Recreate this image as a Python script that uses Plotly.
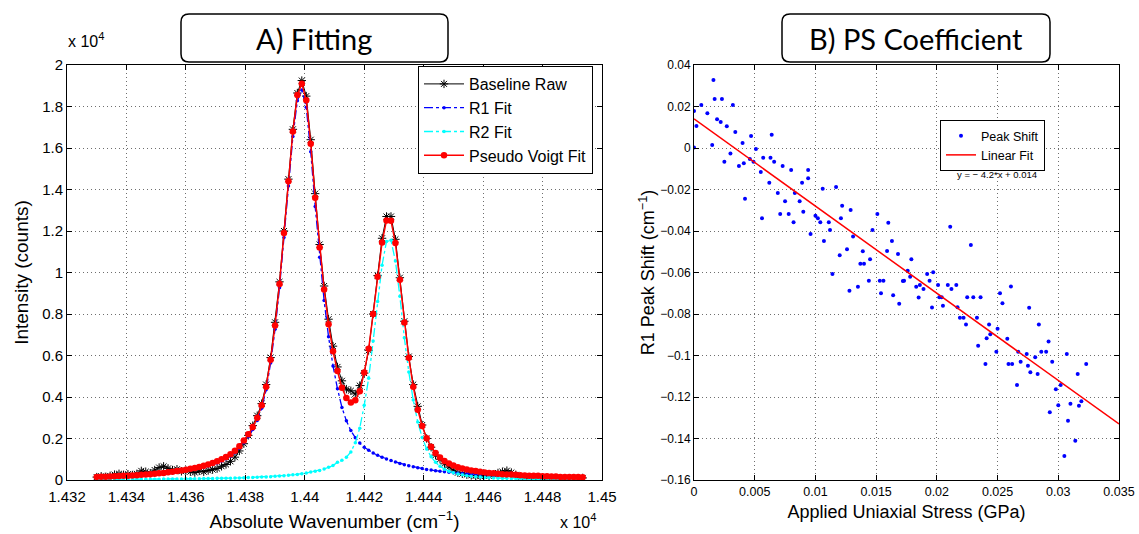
import plotly.graph_objects as go

# --- 0 Data: A) spectrum fit (x in 1e4 cm^-1, y in 1e4 counts)
wavenumber = [1.43300, 1.43315, 1.43330, 1.43345, 1.43360, 1.43375, 1.43390, 1.43405, 1.43420, 1.43435,
              1.43450, 1.43465, 1.43480, 1.43495, 1.43510, 1.43525, 1.43540, 1.43555, 1.43570, 1.43585,
              1.43600, 1.43615, 1.43630, 1.43645, 1.43660, 1.43675, 1.43690, 1.43705, 1.43720, 1.43735,
              1.43750, 1.43765, 1.43780, 1.43795, 1.43810, 1.43825, 1.43840, 1.43855, 1.43870, 1.43885,
              1.43900, 1.43915, 1.43930, 1.43945, 1.43960, 1.43975, 1.43990, 1.44005, 1.44020, 1.44035,
              1.44050, 1.44065, 1.44080, 1.44095, 1.44110, 1.44125, 1.44140, 1.44155, 1.44170, 1.44185,
              1.44200, 1.44215, 1.44230, 1.44245, 1.44260, 1.44275, 1.44290, 1.44305, 1.44320, 1.44335,
              1.44350, 1.44365, 1.44380, 1.44395, 1.44410, 1.44425, 1.44440, 1.44455, 1.44470, 1.44485,
              1.44500, 1.44515, 1.44530, 1.44545, 1.44560, 1.44575, 1.44590, 1.44605, 1.44620, 1.44635,
              1.44650, 1.44665, 1.44680, 1.44695, 1.44710, 1.44725, 1.44740, 1.44755, 1.44770, 1.44785,
              1.44800, 1.44815, 1.44830, 1.44845, 1.44860, 1.44875, 1.44890, 1.44905, 1.44920, 1.44935]

baseline_raw = [0.014, 0.018, 0.015, 0.020, 0.026, 0.030, 0.025, 0.028, 0.024, 0.030,
                0.044, 0.040, 0.033, 0.048, 0.060, 0.066, 0.056, 0.048, 0.052, 0.042,
                0.045, 0.040, 0.036, 0.044, 0.040, 0.046, 0.050, 0.055, 0.066, 0.075,
                0.090, 0.110, 0.140, 0.175, 0.215, 0.262, 0.310, 0.368, 0.460, 0.590,
                0.760, 0.955, 1.200, 1.450, 1.690, 1.865, 1.925, 1.850, 1.640, 1.380,
                1.135, 0.935, 0.775, 0.645, 0.545, 0.478, 0.438, 0.430, 0.415, 0.455,
                0.515, 0.625, 0.800, 0.985, 1.165, 1.270, 1.270, 1.160, 0.975, 0.765,
                0.595, 0.460, 0.355, 0.265, 0.200, 0.158, 0.120, 0.100, 0.078, 0.062,
                0.048, 0.035, 0.030, 0.026, 0.022, 0.020, 0.018, 0.024, 0.020, 0.028,
                0.034, 0.040, 0.045, 0.036, 0.025, 0.012, 0.008, 0.006, 0.004, 0.006,
                0.003, 0.000, 0.002, -0.003, -0.006, -0.004, 0.002, 0.005, 0.008, 0.010]

r1_fit = [0.012, 0.013, 0.013, 0.014, 0.015, 0.016, 0.017, 0.018, 0.019, 0.019,
          0.021, 0.022, 0.024, 0.026, 0.028, 0.029, 0.032, 0.035, 0.038, 0.041,
          0.044, 0.048, 0.052, 0.057, 0.062, 0.068, 0.075, 0.082, 0.092, 0.102,
          0.115, 0.131, 0.153, 0.179, 0.208, 0.243, 0.287, 0.346, 0.435, 0.564,
          0.727, 0.926, 1.169, 1.417, 1.655, 1.828, 1.880, 1.796, 1.582, 1.318,
          1.074, 0.865, 0.690, 0.550, 0.440, 0.350, 0.285, 0.238, 0.204, 0.178,
          0.158, 0.143, 0.130, 0.119, 0.110, 0.101, 0.094, 0.087, 0.080, 0.074,
          0.069, 0.064, 0.059, 0.055, 0.051, 0.048, 0.045, 0.042, 0.040, 0.037,
          0.035, 0.033, 0.031, 0.030, 0.028, 0.027, 0.026, 0.024, 0.023, 0.022,
          0.021, 0.020, 0.019, 0.019, 0.018, 0.017, 0.016, 0.016, 0.015, 0.015,
          0.014, 0.014, 0.013, 0.013, 0.012, 0.012, 0.012, 0.011, 0.011, 0.010]

r2_fit = [0.003, 0.003, 0.003, 0.003, 0.003, 0.003, 0.003, 0.003, 0.003, 0.004,
          0.004, 0.004, 0.004, 0.004, 0.004, 0.005, 0.005, 0.005, 0.005, 0.005,
          0.006, 0.006, 0.006, 0.006, 0.007, 0.007, 0.007, 0.008, 0.008, 0.009,
          0.009, 0.010, 0.010, 0.011, 0.012, 0.012, 0.013, 0.014, 0.015, 0.016,
          0.018, 0.019, 0.021, 0.023, 0.025, 0.027, 0.030, 0.034, 0.038, 0.042,
          0.046, 0.053, 0.061, 0.070, 0.085, 0.095, 0.110, 0.135, 0.180, 0.250,
          0.360, 0.490, 0.670, 0.860, 1.035, 1.150, 1.155, 1.055, 0.885, 0.685,
          0.520, 0.385, 0.280, 0.205, 0.150, 0.112, 0.085, 0.066, 0.052, 0.042,
          0.035, 0.029, 0.025, 0.021, 0.018, 0.016, 0.014, 0.012, 0.011, 0.010,
          0.009, 0.008, 0.008, 0.007, 0.007, 0.006, 0.006, 0.005, 0.005, 0.005,
          0.004, 0.004, 0.004, 0.004, 0.003, 0.003, 0.003, 0.003, 0.003, 0.003]

pv_fit = [0.015, 0.016, 0.016, 0.017, 0.018, 0.019, 0.020, 0.021, 0.022, 0.023,
          0.025, 0.026, 0.028, 0.030, 0.032, 0.034, 0.037, 0.040, 0.043, 0.046,
          0.050, 0.054, 0.058, 0.063, 0.069, 0.075, 0.082, 0.090, 0.100, 0.111,
          0.124, 0.141, 0.163, 0.190, 0.220, 0.255, 0.300, 0.360, 0.450, 0.580,
          0.745, 0.945, 1.190, 1.440, 1.680, 1.855, 1.910, 1.830, 1.620, 1.360,
          1.120, 0.918, 0.751, 0.620, 0.525, 0.445, 0.395, 0.373, 0.384, 0.428,
          0.518, 0.633, 0.800, 0.979, 1.145, 1.251, 1.249, 1.142, 0.965, 0.759,
          0.589, 0.449, 0.339, 0.260, 0.201, 0.160, 0.130, 0.108, 0.092, 0.079,
          0.070, 0.062, 0.056, 0.051, 0.046, 0.043, 0.040, 0.036, 0.034, 0.032,
          0.030, 0.028, 0.027, 0.026, 0.025, 0.023, 0.022, 0.021, 0.020, 0.020,
          0.018, 0.018, 0.017, 0.017, 0.015, 0.015, 0.015, 0.014, 0.014, 0.013]

# --- 1 Data: B) peak shift vs stress
stress = [0.0000, 0.0002, 0.0000, 0.0006, 0.0016, 0.0017, 0.0023, 0.0011, 0.0015, 0.0019,
          0.0022, 0.0032, 0.0027, 0.0025, 0.0030, 0.0034, 0.0040, 0.0037, 0.0041, 0.0042,
          0.0047, 0.0046, 0.0051, 0.0049, 0.0055, 0.0056, 0.0057, 0.0062, 0.0063, 0.0064,
          0.0066, 0.0069, 0.0071, 0.0073, 0.0075, 0.0078, 0.0080, 0.0082, 0.0083, 0.0087,
          0.0089, 0.0090, 0.0094, 0.0094, 0.0096, 0.0100, 0.0102, 0.0104, 0.0106, 0.0107,
          0.0111, 0.0112, 0.0114, 0.0117, 0.0120, 0.0121, 0.0122, 0.0126, 0.0128, 0.0129,
          0.0131, 0.0135, 0.0137, 0.0139, 0.0140, 0.0144, 0.0145, 0.0147, 0.0151, 0.0153,
          0.0154, 0.0156, 0.0159, 0.0160, 0.0163, 0.0164, 0.0168, 0.0169, 0.0172, 0.0173,
          0.0176, 0.0178, 0.0179, 0.0183, 0.0185, 0.0186, 0.0189, 0.0192, 0.0194, 0.0196,
          0.0197, 0.0201, 0.0202, 0.0204, 0.0205, 0.0209, 0.0211, 0.0212, 0.0216, 0.0217,
          0.0219, 0.0222, 0.0224, 0.0225, 0.0228, 0.0230, 0.0233, 0.0234, 0.0236, 0.0240,
          0.0241, 0.0243, 0.0244, 0.0249, 0.0250, 0.0252, 0.0254, 0.0258, 0.0259, 0.0261,
          0.0262, 0.0266, 0.0267, 0.0269, 0.0274, 0.0275, 0.0276, 0.0277, 0.0281, 0.0283,
          0.0284, 0.0286, 0.0290, 0.0292, 0.0293, 0.0295, 0.0298, 0.0300, 0.0302, 0.0305,
          0.0307, 0.0308, 0.0310, 0.0314, 0.0316, 0.0317, 0.0319, 0.0323]
peak_shift = [0.0178, 0.0106, 0.0003, 0.0207, 0.0328, 0.0236, 0.0236, 0.0167, 0.0014, 0.0138,
              0.0125, 0.0207, 0.0105, -0.0066, -0.0026, 0.0077, 0.0024, -0.0087, -0.0074, -0.0244,
              0.0058, -0.0053, -0.0005, -0.0066, -0.0116, -0.0339, -0.0047, -0.0167, -0.0047, 0.0064,
              -0.0066, -0.0217, -0.0318, -0.0087, -0.0257, -0.0318, -0.0106, -0.0358, -0.0217, -0.0257,
              -0.0167, -0.0307, -0.0106, -0.0146, -0.0414, -0.0326, -0.0339, -0.0358, -0.0196, -0.0448,
              -0.0358, -0.0395, -0.0607, -0.0188, -0.0517, -0.0339, -0.0278, -0.0488, -0.0688, -0.0299,
              -0.0427, -0.0669, -0.0558, -0.0498, -0.0558, -0.0640, -0.0536, -0.0395, -0.0318, -0.0640,
              -0.0700, -0.0640, -0.0496, -0.0360, -0.0448, -0.0710, -0.0511, -0.0751, -0.0641, -0.0640,
              -0.0591, -0.0620, -0.0536, -0.0669, -0.0721, -0.0660, -0.0680, -0.0607, -0.0640, -0.0769,
              -0.0599, -0.0660, -0.0719, -0.0719, -0.0760, -0.0660, -0.0379, -0.0680, -0.0660, -0.0768,
              -0.0818, -0.0818, -0.0850, -0.0719, -0.0467, -0.0719, -0.0818, -0.0953, -0.0719, -0.1041,
              -0.0917, -0.0850, -0.0898, -0.0982, -0.0871, -0.0700, -0.0748, -0.0919, -0.1041, -0.0668,
              -0.1041, -0.1142, -0.0982, -0.1030, -0.0993, -0.1049, -0.0770, -0.1081, -0.1009, -0.1089,
              -0.0850, -0.0982, -0.0982, -0.0932, -0.1274, -0.1030, -0.1163, -0.1240, -0.1142, -0.1484,
              -0.0993, -0.1314, -0.1232, -0.1411, -0.1089, -0.1242, -0.1221, -0.1041]
fit_slope = -4.2
fit_intercept = 0.014
fit_stress = [0.0, 0.035]

# tick labels
a_xticks = [1.432, 1.434, 1.436, 1.438, 1.44, 1.442, 1.444, 1.446, 1.448, 1.45]
a_xlabels = ["1.432", "1.434", "1.436", "1.438", "1.44", "1.442", "1.444", "1.446", "1.448", "1.45"]
a_yticks = [0, 0.2, 0.4, 0.6, 0.8, 1, 1.2, 1.4, 1.6, 1.8, 2]
a_ylabels = ["0", "0.2", "0.4", "0.6", "0.8", "1", "1.2", "1.4", "1.6", "1.8", "2"]
b_xticks = [0, 0.005, 0.01, 0.015, 0.02, 0.025, 0.03, 0.035]
b_xlabels = ["0", "0.005", "0.01", "0.015", "0.02", "0.025", "0.03", "0.035"]
b_yticks = [-0.16, -0.14, -0.12, -0.1, -0.08, -0.06, -0.04, -0.02, 0, 0.02, 0.04]
b_ylabels = ["\u22120.16", "\u22120.14", "\u22120.12", "\u22120.1", "\u22120.08", "\u22120.06",
             "\u22120.04", "\u22120.02", "0", "0.02", "0.04"]

W, H = 1139, 534
FONT = "Liberation Sans, Arial, sans-serif"
TITLE_FONT = "Lato, Open Sans, sans-serif"

fit_shift = [fit_slope * s + fit_intercept for s in fit_stress]

# --- 2 Figure
fig = go.Figure()

fig.add_trace(go.Scatter(x=wavenumber, y=baseline_raw, mode="lines+markers", name="Baseline Raw",
                         line=dict(color="black", width=1),
                         marker=dict(symbol="asterisk-open", size=7, color="black",
                                     line=dict(color="black", width=1)),
                         xaxis="x", yaxis="y", legend="legend"))
fig.add_trace(go.Scatter(x=wavenumber, y=r1_fit, mode="lines+markers", name="R1 Fit",
                         line=dict(color="#0000ff", width=1.3, dash="dashdot"),
                         marker=dict(symbol="circle", size=3.5, color="#0000ff"),
                         xaxis="x", yaxis="y", legend="legend"))
fig.add_trace(go.Scatter(x=wavenumber, y=r2_fit, mode="lines+markers", name="R2 Fit",
                         line=dict(color="#00ffff", width=1.3, dash="dashdot"),
                         marker=dict(symbol="circle", size=3.5, color="#00ffff"),
                         xaxis="x", yaxis="y", legend="legend"))
fig.add_trace(go.Scatter(x=wavenumber, y=pv_fit, mode="lines+markers", name="Pseudo Voigt Fit",
                         line=dict(color="#ff0000", width=1.5),
                         marker=dict(symbol="circle", size=6.5, color="#ff0000"),
                         xaxis="x", yaxis="y", legend="legend"))

fig.add_trace(go.Scatter(x=stress, y=peak_shift, mode="markers", name="Peak Shift",
                         marker=dict(symbol="circle", size=4, color="#0000ff"),
                         xaxis="x2", yaxis="y2", legend="legend2"))
fig.add_trace(go.Scatter(x=fit_stress, y=fit_shift, mode="lines", name="Linear Fit",
                         line=dict(color="#ff0000", width=1.5),
                         xaxis="x2", yaxis="y2", legend="legend2"))

axis_common = dict(showline=True, linecolor="black", linewidth=1, mirror="ticks",
                   ticks="inside", ticklen=5, tickcolor="black", showgrid=True,
                   gridcolor="#6e6e6e", griddash="1px,3px", gridwidth=1, zeroline=False,
                   automargin=False)

fig.update_layout(
    width=W, height=H, template="none",
    margin=dict(l=0, r=0, t=0, b=0, autoexpand=False),
    paper_bgcolor="white", plot_bgcolor="white",
    font=dict(family=FONT, color="black"),
    xaxis=dict(domain=[67 / W, 602 / W], range=[1.432, 1.45], anchor="y",
               tickvals=a_xticks, ticktext=a_xlabels, tickfont=dict(size=15), ticklabelstandoff=3,
               title=dict(text="Absolute Wavenumber (cm<sup>\u22121</sup>)", font=dict(size=19), standoff=10),
               **axis_common),
    yaxis=dict(domain=[1 - 480 / H, 1 - 65 / H], range=[0, 2], anchor="x",
               tickvals=a_yticks, ticktext=a_ylabels, tickfont=dict(size=15),
               title=dict(text="Intensity (counts)", font=dict(size=19), standoff=8),
               **axis_common),
    xaxis2=dict(domain=[694 / W, 1119 / W], range=[0, 0.035], anchor="y2",
                tickvals=b_xticks, ticktext=b_xlabels, tickfont=dict(size=12.5),
                title=dict(text="Applied Uniaxial Stress (GPa)", font=dict(size=18), standoff=7),
                **axis_common),
    yaxis2=dict(domain=[1 - 480 / H, 1 - 65 / H], range=[-0.16, 0.04], anchor="x2",
                tickvals=b_yticks, ticktext=b_ylabels, tickfont=dict(size=12),
                title=dict(text="R1 Peak Shift (cm<sup>\u22121</sup>)", font=dict(size=18), standoff=0),
                **axis_common),
    legend=dict(x=593 / W, xanchor="right", y=1 - 66 / H, yanchor="top",
                bgcolor="white", bordercolor="black", borderwidth=1,
                font=dict(size=16), itemwidth=40, tracegroupgap=0),
    legend2=dict(x=1045 / W, xanchor="right", y=1 - 120 / H, yanchor="top",
                 bgcolor="white", bordercolor="black", borderwidth=1,
                 font=dict(size=12.5), itemwidth=30, tracegroupgap=0),
    showlegend=True,
)


def rounded_box(x0, y0, x1, y1, r):
    # pixel box -> paper path with rounded corners
    def p(x, y):
        return "%.5f,%.5f" % (x / W, 1 - y / H)
    return ("M " + p(x0 + r, y0) + " L " + p(x1 - r, y0) + " Q " + p(x1, y0) + " " + p(x1, y0 + r)
            + " L " + p(x1, y1 - r) + " Q " + p(x1, y1) + " " + p(x1 - r, y1)
            + " L " + p(x0 + r, y1) + " Q " + p(x0, y1) + " " + p(x0, y1 - r)
            + " L " + p(x0, y0 + r) + " Q " + p(x0, y0) + " " + p(x0 + r, y0) + " Z")


for box in [(181, 14, 448, 62), (782, 14, 1050, 62)]:
    fig.add_shape(type="path", xref="paper", yref="paper", path=rounded_box(*box, 8),
                  line=dict(color="black", width=1.5), fillcolor="white", layer="below")

fig.add_annotation(x=314 / W, y=1 - 39 / H, xref="paper", yref="paper", xanchor="center", yanchor="middle",
                   text="A) Fitting", showarrow=False, font=dict(family=TITLE_FONT, size=29))
fig.add_annotation(x=916 / W, y=1 - 39 / H, xref="paper", yref="paper", xanchor="center", yanchor="middle",
                   text="B) PS Coefficient", showarrow=False, font=dict(family=TITLE_FONT, size=29))
fig.add_annotation(x=66 / W, y=1 - 40 / H, xref="paper", yref="paper", xanchor="left", yanchor="middle",
                   text="x 10<sup>4</sup>", showarrow=False, font=dict(size=16))
fig.add_annotation(x=558 / W, y=1 - 521 / H, xref="paper", yref="paper", xanchor="left", yanchor="middle",
                   text="x 10<sup>4</sup>", showarrow=False, font=dict(size=16))
fig.add_annotation(x=997 / W, y=1 - 174 / H, xref="paper", yref="paper", xanchor="center", yanchor="middle",
                   text="y = \u2212 4.2*x + 0.014", showarrow=False, font=dict(size=9.5))

fig.write_html("out.html", config={"displayModeBar": False},
               post_script="document.body.style.margin='0px';")
